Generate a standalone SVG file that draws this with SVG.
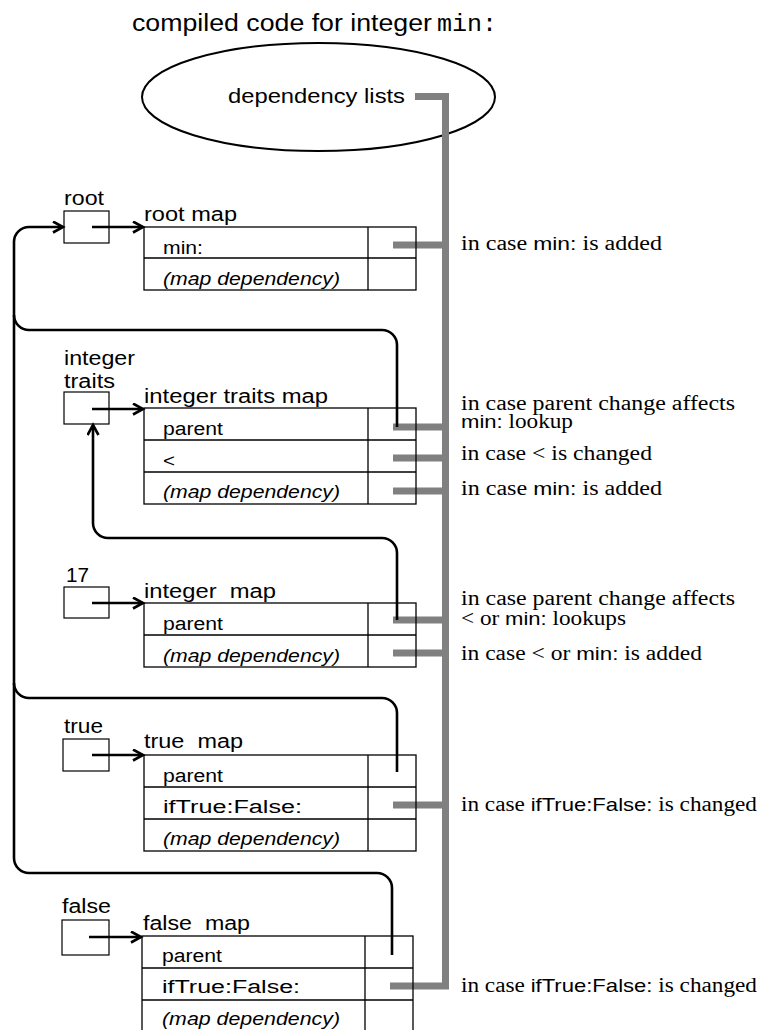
<svg xmlns="http://www.w3.org/2000/svg" width="763" height="1030" viewBox="0 0 763 1030">
<style>
.sans{font-family:"Liberation Sans",Arial,sans-serif;fill:#000}
.serif{font-family:"Liberation Serif","Times New Roman",serif;font-size:20px;fill:#000}
.mono{font-family:"Liberation Mono","Courier New",monospace;fill:#000}
.ttl{font-size:23px}
.lbl{font-size:20px}
.cell{font-size:18px}
.s19{font-size:19px}
.it{font-style:italic}
.box{fill:none;stroke:#000;stroke-width:1.2}
.grid{fill:none;stroke:#000;stroke-width:1.3}
.ptr{fill:none;stroke:#000;stroke-width:2.6}
.dep{fill:none;stroke:#808080;stroke-width:7}
.oval{fill:none;stroke:#000;stroke-width:2}
</style>
<defs>
<marker id="arr" markerUnits="userSpaceOnUse" markerWidth="14" markerHeight="14" refX="11" refY="6" orient="auto">
<path d="M1,0.5 L11,6 L1,11.5" fill="none" stroke="#000" stroke-width="2.6"/>
</marker>
</defs>

<g id="title">
<text class="sans ttl" x="132" y="31" textLength="300" lengthAdjust="spacingAndGlyphs">compiled code for integer</text>
<text class="mono ttl" x="437" y="31" textLength="60" lengthAdjust="spacingAndGlyphs">min:</text>
</g>

<g id="compiled-code">
<ellipse class="oval" cx="318.5" cy="97" rx="176.5" ry="54"/>
<text class="sans lbl" x="228" y="103" textLength="177" lengthAdjust="spacingAndGlyphs">dependency lists</text>
</g>

<g id="connectors">
<g id="dependencies">
<path class="dep" d="M415,96.5 H445.5 V986 H390"/>
<path class="dep" d="M393,245 H445"/>
<path class="dep" d="M393,427 H445"/>
<path class="dep" d="M393,458 H445"/>
<path class="dep" d="M393,491 H445"/>
<path class="dep" d="M393,620 H445"/>
<path class="dep" d="M393,653 H445"/>
<path class="dep" d="M393,805 H445"/>
</g>
<g id="pointers">
<path class="ptr" marker-end="url(#arr)" d="M92,227 H143"/>
<path class="ptr" marker-end="url(#arr)" d="M92,409 H143"/>
<path class="ptr" marker-end="url(#arr)" d="M92,603 H143"/>
<path class="ptr" marker-end="url(#arr)" d="M92,755 H143"/>
<path class="ptr" marker-end="url(#arr)" d="M89,937 H141"/>
<path class="ptr" marker-end="url(#arr)" d="M392,955 V888 A15,15 0 0 0 377,873 H29 A15,15 0 0 1 14,858 V242 A15,15 0 0 1 29,227 H63"/>
<path class="ptr" d="M397,772 V713 A15,15 0 0 0 382,698 H29 A15,15 0 0 1 14,683"/>
<path class="ptr" d="M397,427 V345 A15,15 0 0 0 382,330 H29 A15,15 0 0 1 14,315"/>
<path class="ptr" marker-end="url(#arr)" d="M397,620 V553 A15,15 0 0 0 382,538 H108 A15,15 0 0 1 93,523 V425"/>
</g>
</g>

<g id="root">
<text class="sans lbl" x="64" y="205" textLength="40" lengthAdjust="spacingAndGlyphs">root</text>
<rect class="box" x="64" y="211" width="45" height="32"/>
</g>
<g id="root-map">
<text class="sans lbl" x="144" y="221" textLength="93" lengthAdjust="spacingAndGlyphs">root map</text>
<rect class="grid" x="144" y="227" width="272" height="63"/>
<path class="grid" d="M144,258 H416 M368,227 V290"/>
<text class="sans cell" x="163" y="254" textLength="40" lengthAdjust="spacingAndGlyphs">min:</text>
<text class="sans cell it" x="163" y="285" textLength="177" lengthAdjust="spacingAndGlyphs">(map dependency)</text>
</g>

<g id="integer-traits">
<text class="sans lbl" x="64" y="365" textLength="71" lengthAdjust="spacingAndGlyphs">integer</text>
<text class="sans lbl" x="64" y="388" textLength="51" lengthAdjust="spacingAndGlyphs">traits</text>
<rect class="box" x="64" y="392" width="45" height="32"/>
</g>
<g id="integer-traits-map">
<text class="sans lbl" x="144" y="403" textLength="184" lengthAdjust="spacingAndGlyphs">integer traits map</text>
<rect class="grid" x="144" y="408" width="272" height="96"/>
<path class="grid" d="M144,440 H416 M144,472 H416 M368,408 V504"/>
<text class="sans cell" x="163" y="435" textLength="60" lengthAdjust="spacingAndGlyphs">parent</text>
<text class="sans cell" x="163" y="467" textLength="12" lengthAdjust="spacingAndGlyphs">&lt;</text>
<text class="sans cell it" x="163" y="498" textLength="177" lengthAdjust="spacingAndGlyphs">(map dependency)</text>
</g>

<g id="n17">
<text class="sans lbl" x="66" y="582" textLength="23" lengthAdjust="spacingAndGlyphs">17</text>
<rect class="box" x="64" y="587" width="45" height="31"/>
</g>
<g id="integer-map">
<text class="sans lbl" x="144" y="598" xml:space="preserve" textLength="132" lengthAdjust="spacingAndGlyphs">integer  map</text>
<rect class="grid" x="144" y="603" width="272" height="64"/>
<path class="grid" d="M144,635 H416 M368,603 V667"/>
<text class="sans cell" x="163" y="630" textLength="60" lengthAdjust="spacingAndGlyphs">parent</text>
<text class="sans cell it" x="163" y="662" textLength="177" lengthAdjust="spacingAndGlyphs">(map dependency)</text>
</g>

<g id="true">
<text class="sans lbl" x="64" y="733" textLength="39" lengthAdjust="spacingAndGlyphs">true</text>
<rect class="box" x="63" y="739" width="46" height="32"/>
</g>
<g id="true-map">
<text class="sans lbl" x="144" y="748" xml:space="preserve" textLength="99" lengthAdjust="spacingAndGlyphs">true  map</text>
<rect class="grid" x="144" y="755" width="272" height="96"/>
<path class="grid" d="M144,787 H416 M144,819 H416 M368,755 V851"/>
<text class="sans cell" x="163" y="782" textLength="60" lengthAdjust="spacingAndGlyphs">parent</text>
<text class="sans cell" x="163" y="813" textLength="139" lengthAdjust="spacingAndGlyphs">ifTrue:False:</text>
<text class="sans cell it" x="163" y="845" textLength="177" lengthAdjust="spacingAndGlyphs">(map dependency)</text>
</g>

<g id="false">
<text class="sans lbl" x="62" y="913" textLength="49" lengthAdjust="spacingAndGlyphs">false</text>
<rect class="box" x="62" y="920" width="47" height="35"/>
</g>
<g id="false-map">
<text class="sans lbl" x="143" y="930" xml:space="preserve" textLength="107" lengthAdjust="spacingAndGlyphs">false  map</text>
<rect class="grid" x="142" y="936" width="271" height="96"/>
<path class="grid" d="M142,968 H413 M142,1000 H413 M365,936 V1032"/>
<text class="sans cell" x="162" y="962" textLength="60" lengthAdjust="spacingAndGlyphs">parent</text>
<text class="sans cell" x="162" y="993" textLength="138" lengthAdjust="spacingAndGlyphs">ifTrue:False:</text>
<text class="sans cell it" x="162" y="1025" textLength="178" lengthAdjust="spacingAndGlyphs">(map dependency)</text>
</g>

<g id="notes">
<text class="serif" x="461" y="250" textLength="201" lengthAdjust="spacingAndGlyphs">in case <tspan class="sans s19">min:</tspan> is added</text>
<text class="serif" x="461" y="410" textLength="274" lengthAdjust="spacingAndGlyphs">in case parent change affects</text>
<text class="serif" x="461" y="428" textLength="112" lengthAdjust="spacingAndGlyphs"><tspan class="sans s19">min:</tspan> lookup</text>
<text class="serif" x="461" y="460" textLength="191" lengthAdjust="spacingAndGlyphs">in case &lt; is changed</text>
<text class="serif" x="461" y="495" textLength="201" lengthAdjust="spacingAndGlyphs">in case <tspan class="sans s19">min:</tspan> is added</text>
<text class="serif" x="461" y="605" textLength="274" lengthAdjust="spacingAndGlyphs">in case parent change affects</text>
<text class="serif" x="461" y="625" textLength="165" lengthAdjust="spacingAndGlyphs">&lt; or <tspan class="sans s19">min:</tspan> lookups</text>
<text class="serif" x="461" y="660" textLength="241" lengthAdjust="spacingAndGlyphs">in case &lt; or <tspan class="sans s19">min:</tspan> is added</text>
<text class="serif" x="461" y="811" textLength="296" lengthAdjust="spacingAndGlyphs">in case <tspan class="sans s19">ifTrue:False:</tspan> is changed</text>
<text class="serif" x="461" y="992" textLength="296" lengthAdjust="spacingAndGlyphs">in case <tspan class="sans s19">ifTrue:False:</tspan> is changed</text>
</g>
</svg>
